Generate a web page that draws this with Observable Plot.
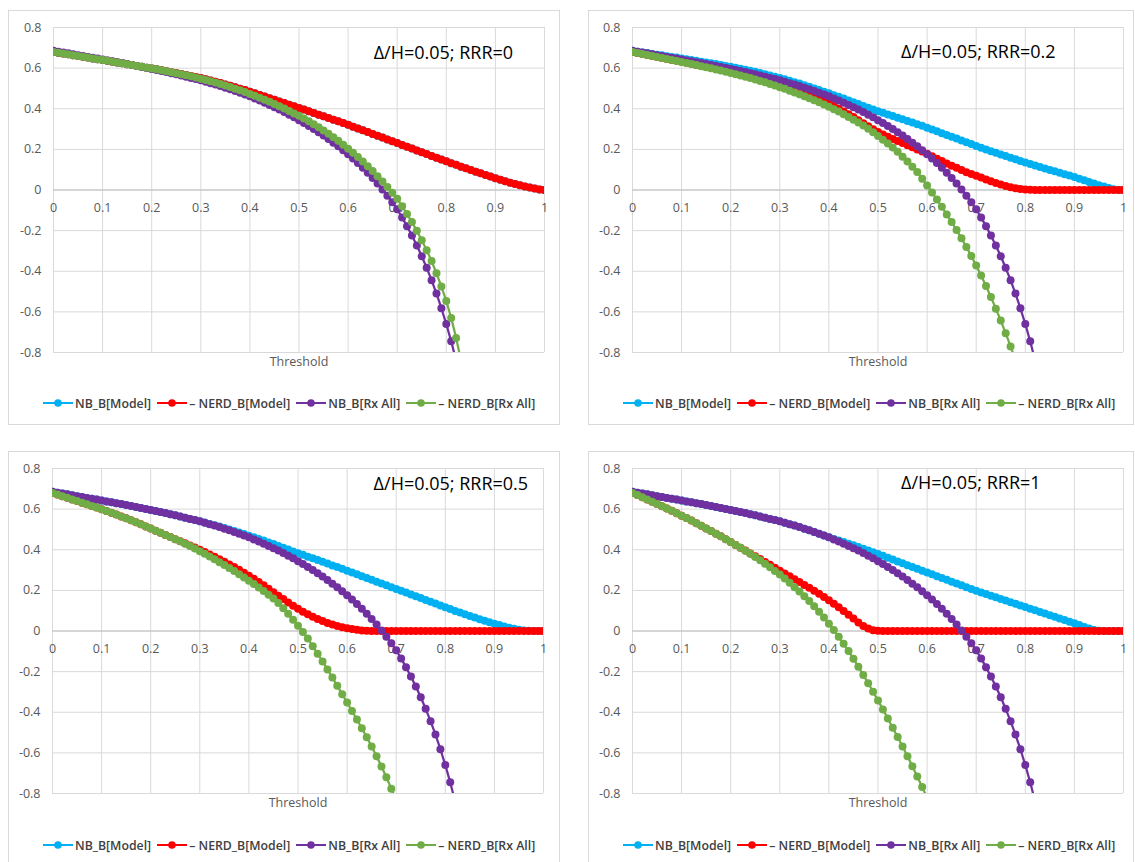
<!DOCTYPE html>
<html><head><meta charset="utf-8">
<script src="https://cdn.jsdelivr.net/npm/d3@7"></script>
<script src="https://cdn.jsdelivr.net/npm/@observablehq/plot@0.6"></script>
<style>
body{margin:0;background:#fff;font-family:"Open Sans",sans-serif;}
#page{position:relative;width:1135px;height:862px;overflow:hidden;background:#fff;}
.frame{position:absolute;border:1px solid #d9d9d9;box-sizing:border-box;}
.plot{position:absolute;}
.legend{position:absolute;display:flex;align-items:center;height:18px;font-size:12.3px;font-weight:600;color:#404040;white-space:nowrap;}
.legend .item{display:flex;align-items:center;margin-right:6px;}
.legend .item span{margin-left:2px;}
</style></head><body><div id="page"></div>
<script>
// ---------- categories / ticks ----------
const thresholds = Array.from({length: 101}, (_, i) => i / 100);
const xTicks = [0, 0.1, 0.2, 0.3, 0.4, 0.5, 0.6, 0.7, 0.8, 0.9, 1];
const yTicks = [-0.8, -0.6, -0.4, -0.2, 0, 0.2, 0.4, 0.6, 0.8];
const seriesNames = ["NB_B[Model]", "– NERD_B[Model]", "NB_B[Rx All]", "– NERD_B[Rx All]"];
const seriesColors = ["#00B0F0", "#FF0000", "#7030A0", "#70AD47"];
const panelTitles = ["Δ/H=0.05; RRR=0", "Δ/H=0.05; RRR=0.2", "Δ/H=0.05; RRR=0.5", "Δ/H=0.05; RRR=1"];
const axisTitle = "Threshold";

// ---------- values (threshold step 0.01) ----------
// NB_B[Rx All] (same in all four panels)
const nbRxAll = [0.685,0.681,0.677,0.673,0.668,0.664,0.660,0.655,0.651,0.647,0.642,
0.638,0.634,0.629,0.625,0.620,0.616,0.611,0.606,0.601,0.596,
0.591,0.586,0.581,0.575,0.570,0.564,0.558,0.552,0.546,0.540,
0.533,0.526,0.519,0.512,0.504,0.496,0.488,0.479,0.470,0.461,
0.451,0.441,0.430,0.419,0.408,0.396,0.384,0.371,0.358,0.344,
0.330,0.315,0.300,0.284,0.268,0.251,0.233,0.215,0.196,0.176,
0.155,0.133,0.110,0.085,0.059,0.032,0.003,-0.028,-0.060,-0.095,
-0.135,-0.178,-0.224,-0.273,-0.326,-0.383,-0.444,-0.510,-0.582,-0.660,
-0.745,-0.840];

// Panel 1 (RRR=0): NB_B[Model] and NERD_B[Model] coincide
const p1NerdModel = [0.680,0.676,0.672,0.668,0.664,0.660,0.656,0.652,0.648,0.644,0.640,
0.636,0.632,0.628,0.624,0.619,0.615,0.611,0.607,0.602,0.598,
0.594,0.589,0.585,0.580,0.576,0.571,0.566,0.561,0.556,0.551,
0.545,0.539,0.533,0.527,0.520,0.513,0.506,0.499,0.492,0.484,
0.476,0.468,0.460,0.452,0.444,0.436,0.428,0.420,0.412,0.404,
0.396,0.388,0.379,0.371,0.363,0.355,0.346,0.338,0.330,0.321,
0.312,0.303,0.294,0.285,0.276,0.267,0.258,0.249,0.240,0.231,
0.222,0.213,0.204,0.195,0.186,0.177,0.168,0.159,0.150,0.141,
0.132,0.124,0.115,0.107,0.098,0.090,0.082,0.074,0.066,0.058,
0.050,0.043,0.036,0.029,0.023,0.017,0.012,0.007,0.003,0.000];
const p1NbModel = p1NerdModel;
const p1NerdRxAll = [0.680,0.676,0.672,0.668,0.664,0.660,0.656,0.652,0.648,0.644,0.640,
0.636,0.632,0.628,0.624,0.619,0.615,0.611,0.607,0.602,0.598,
0.594,0.589,0.585,0.580,0.575,0.570,0.565,0.560,0.554,0.548,
0.542,0.536,0.529,0.522,0.515,0.507,0.499,0.491,0.482,0.473,
0.464,0.454,0.444,0.434,0.423,0.412,0.401,0.389,0.377,0.365,
0.352,0.338,0.324,0.309,0.293,0.277,0.260,0.242,0.223,0.203,
0.183,0.162,0.140,0.117,0.093,0.068,0.042,0.015,-0.013,-0.043,
-0.080,-0.118,-0.158,-0.201,-0.247,-0.296,-0.350,-0.410,-0.475,-0.547,
-0.630,-0.728,-0.840];

// Panel 2 (RRR=0.2)
const p2NbModel = [0.685,0.681,0.677,0.674,0.670,0.666,0.663,0.659,0.655,0.652,0.648,
0.644,0.640,0.636,0.632,0.628,0.624,0.620,0.616,0.611,0.607,
0.602,0.597,0.592,0.587,0.582,0.576,0.570,0.564,0.558,0.552,
0.545,0.538,0.531,0.524,0.516,0.508,0.500,0.492,0.484,0.476,
0.467,0.459,0.450,0.441,0.432,0.423,0.414,0.405,0.396,0.388,
0.380,0.372,0.364,0.356,0.348,0.340,0.332,0.324,0.316,0.307,
0.298,0.289,0.280,0.271,0.262,0.253,0.244,0.235,0.226,0.217,
0.208,0.200,0.191,0.183,0.175,0.167,0.159,0.151,0.143,0.136,
0.128,0.121,0.113,0.106,0.099,0.092,0.085,0.078,0.071,0.064,
0.056,0.048,0.040,0.032,0.024,0.017,0.010,0.004,0.000,0.000];
const p2NerdModel = [0.680,0.675,0.670,0.665,0.660,0.655,0.650,0.645,0.640,0.636,0.631,
0.626,0.621,0.616,0.611,0.606,0.601,0.596,0.591,0.586,0.581,
0.575,0.570,0.564,0.558,0.552,0.546,0.540,0.533,0.526,0.519,
0.511,0.503,0.495,0.486,0.477,0.468,0.458,0.448,0.437,0.426,
0.413,0.400,0.387,0.373,0.359,0.344,0.329,0.314,0.299,0.285,
0.273,0.262,0.251,0.241,0.231,0.220,0.210,0.199,0.189,0.178,
0.166,0.154,0.143,0.131,0.120,0.109,0.098,0.088,0.079,0.070,
0.061,0.052,0.043,0.035,0.027,0.020,0.014,0.009,0.005,0.002,
0.001,0,0,0,0,0,0,0,0,0,
0,0,0,0,0,0,0,0,0,0];
const p2NerdRxAll = [0.680,0.675,0.670,0.665,0.660,0.655,0.650,0.645,0.640,0.635,0.630,
0.625,0.620,0.615,0.609,0.604,0.599,0.593,0.588,0.582,0.576,
0.570,0.564,0.557,0.551,0.544,0.537,0.530,0.522,0.514,0.506,
0.498,0.489,0.480,0.471,0.462,0.452,0.442,0.432,0.421,0.410,
0.398,0.386,0.373,0.360,0.346,0.332,0.317,0.301,0.284,0.266,
0.248,0.229,0.209,0.188,0.164,0.140,0.115,0.089,0.056,0.022,
-0.012,-0.047,-0.083,-0.120,-0.158,-0.197,-0.238,-0.280,-0.325,-0.372,
-0.421,-0.473,-0.527,-0.584,-0.643,-0.705,-0.770,-0.838];

// Panel 3 (RRR=0.5)
const p3NbModel = [0.685,0.681,0.677,0.673,0.668,0.664,0.660,0.655,0.651,0.647,0.642,
0.638,0.634,0.629,0.625,0.620,0.616,0.611,0.606,0.601,0.596,
0.591,0.586,0.581,0.575,0.570,0.564,0.558,0.552,0.546,0.540,
0.534,0.527,0.521,0.514,0.507,0.500,0.492,0.485,0.477,0.469,
0.461,0.453,0.445,0.436,0.428,0.419,0.410,0.401,0.392,0.383,
0.375,0.366,0.358,0.349,0.341,0.332,0.323,0.315,0.306,0.297,
0.288,0.279,0.270,0.261,0.252,0.243,0.234,0.225,0.216,0.207,
0.198,0.189,0.180,0.171,0.162,0.153,0.144,0.135,0.126,0.117,
0.108,0.099,0.091,0.082,0.074,0.066,0.058,0.050,0.043,0.036,
0.029,0.022,0.016,0.011,0.006,0.003,0.001,0,0,0];
const p3NerdModel = [0.680,0.672,0.664,0.656,0.648,0.640,0.632,0.624,0.616,0.608,0.600,
0.591,0.582,0.573,0.564,0.555,0.545,0.535,0.525,0.515,0.505,
0.494,0.484,0.473,0.463,0.452,0.442,0.432,0.421,0.411,0.400,
0.389,0.377,0.365,0.353,0.341,0.328,0.315,0.301,0.287,0.272,
0.257,0.241,0.225,0.208,0.191,0.174,0.157,0.140,0.124,0.109,
0.095,0.082,0.070,0.059,0.049,0.040,0.032,0.025,0.019,0.014,
0.010,0.006,0.003,0.001,0,0,0,0,0,0,
0,0,0,0,0,0,0,0,0,0,
0,0,0,0,0,0,0,0,0,0,
0,0,0,0,0,0,0,0,0,0];
const p3NerdRxAll = [0.680,0.672,0.664,0.656,0.648,0.640,0.632,0.624,0.616,0.608,0.600,
0.591,0.582,0.573,0.564,0.555,0.545,0.535,0.525,0.515,0.505,
0.494,0.484,0.473,0.463,0.452,0.442,0.430,0.418,0.406,0.393,
0.380,0.367,0.353,0.339,0.325,0.310,0.295,0.279,0.263,0.247,
0.231,0.214,0.197,0.179,0.160,0.138,0.112,0.085,0.056,0.026,
-0.005,-0.037,-0.075,-0.112,-0.150,-0.189,-0.229,-0.270,-0.311,-0.352,
-0.394,-0.436,-0.479,-0.523,-0.569,-0.617,-0.667,-0.720,-0.776,-0.835];

// Panel 4 (RRR=1)
const p4NbModel = [0.685,0.681,0.677,0.673,0.668,0.664,0.660,0.655,0.651,0.647,0.642,
0.638,0.634,0.629,0.625,0.620,0.616,0.611,0.606,0.601,0.596,
0.591,0.586,0.581,0.575,0.570,0.564,0.558,0.552,0.546,0.540,
0.533,0.526,0.519,0.512,0.504,0.496,0.488,0.479,0.470,0.461,
0.453,0.446,0.438,0.430,0.422,0.414,0.405,0.396,0.388,0.379,
0.370,0.361,0.352,0.342,0.333,0.324,0.315,0.306,0.297,0.288,
0.279,0.270,0.261,0.252,0.243,0.234,0.225,0.216,0.207,0.198,
0.190,0.182,0.174,0.166,0.158,0.150,0.142,0.134,0.126,0.118,
0.110,0.102,0.094,0.086,0.078,0.070,0.062,0.054,0.046,0.038,
0.029,0.020,0.012,0.005,0.001,0,0,0,0,0];
const p4NerdModel = [0.680,0.669,0.658,0.647,0.636,0.625,0.614,0.603,0.592,0.580,0.568,
0.556,0.544,0.531,0.518,0.505,0.492,0.479,0.466,0.452,0.438,
0.424,0.410,0.396,0.382,0.368,0.354,0.340,0.326,0.311,0.297,
0.283,0.269,0.255,0.241,0.227,0.213,0.198,0.183,0.167,0.151,
0.134,0.117,0.099,0.080,0.061,0.042,0.025,0.012,0.004,0.001,
0,0,0,0,0,0,0,0,0,0,
0,0,0,0,0,0,0,0,0,0,
0,0,0,0,0,0,0,0,0,0,
0,0,0,0,0,0,0,0,0,0,
0,0,0,0,0,0,0,0,0,0];
const p4NerdRxAll = [0.680,0.669,0.658,0.647,0.636,0.625,0.614,0.603,0.592,0.580,0.568,
0.556,0.544,0.531,0.518,0.505,0.492,0.479,0.466,0.452,0.438,
0.424,0.410,0.395,0.380,0.364,0.348,0.331,0.314,0.296,0.278,
0.259,0.238,0.216,0.194,0.171,0.148,0.122,0.095,0.066,0.036,
0.005,-0.028,-0.063,-0.099,-0.137,-0.176,-0.216,-0.257,-0.299,-0.342,
-0.386,-0.431,-0.476,-0.522,-0.569,-0.617,-0.666,-0.716,-0.768,-0.822];

const panelSeries = [
  [p1NbModel, p1NerdModel, nbRxAll, p1NerdRxAll],
  [p2NbModel, p2NerdModel, nbRxAll, p2NerdRxAll],
  [p3NbModel, p3NerdModel, nbRxAll, p3NerdRxAll],
  [p4NbModel, p4NerdModel, nbRxAll, p4NerdRxAll]
];

// ---------- layout (page pixels) ----------
const layout = [
  {frame: [8, 10, 552, 415], svg: [8, 10], legend: [43, 394], note: [0.652, 0.675]},
  {frame: [588, 10, 546, 415], svg: [587, 10], legend: [623, 394], note: [0.547, 0.680]},
  {frame: [8, 451, 552, 420], svg: [7, 451], legend: [43, 836], note: [0.654, 0.723]},
  {frame: [588, 451, 546, 420], svg: [587, 451], legend: [623, 836], note: [0.547, 0.726]}
];

const page = document.getElementById("page");

panelTitles.forEach((title, p) => {
  const L = layout[p];
  const fr = document.createElement("div");
  fr.className = "frame";
  Object.assign(fr.style, {left: L.frame[0] + "px", top: L.frame[1] + "px", width: L.frame[2] + "px", height: L.frame[3] + "px"});
  page.appendChild(fr);

  const seriesMarks = [];
  panelSeries[p].forEach((vals, s) => {
    const rows = vals.map((v, i) => ({t: thresholds[i], v}));
    seriesMarks.push(Plot.line(rows, {x: "t", y: "v", stroke: seriesColors[s], strokeWidth: 2.25, clip: true}));
    seriesMarks.push(Plot.dot(rows, {x: "t", y: "v", r: 4, fill: seriesColors[s], stroke: "none", clip: true}));
  });

  const chart = Plot.plot({
    width: 548, height: 367,
    marginLeft: 45, marginRight: 12, marginTop: 17, marginBottom: 25,
    x: {domain: [0, 1], axis: null},
    y: {domain: [-0.8, 0.8], axis: null},
    style: {fontFamily: "Open Sans, sans-serif", fontSize: "12.5px", color: "#595959", background: "transparent", overflow: "visible"},
    marks: [
      Plot.ruleX(xTicks, {x: d => d, stroke: "#d9d9d9", strokeWidth: 1}),
      Plot.ruleY(yTicks, {y: d => d, stroke: "#d9d9d9", strokeWidth: 1}),
      Plot.ruleY([0], {y: d => d, stroke: "#bfbfbf", strokeWidth: 1}),
      Plot.text(yTicks, {y: d => d, frameAnchor: "left", dx: -12, textAnchor: "end", text: d => String(d)}),
      Plot.text(xTicks, {x: d => d, y: () => 0, dy: 18, text: d => String(d)}),
      Plot.text([axisTitle], {frameAnchor: "bottom", dy: 13, fontSize: 12.5, text: d => d}),
      Plot.text([title], {x: () => L.note[0], y: () => L.note[1], textAnchor: "start", fontSize: 18, fill: "#000", text: d => d}),
      ...seriesMarks
    ]
  });
  chart.classList.add("plot");
  chart.style.left = L.svg[0] + "px";
  chart.style.top = L.svg[1] + "px";
  page.appendChild(chart);

  const lg = document.createElement("div");
  lg.className = "legend";
  lg.style.left = L.legend[0] + "px";
  lg.style.top = L.legend[1] + "px";
  seriesNames.forEach((name, s) => {
    const it = document.createElement("div");
    it.className = "item";
    const c = seriesColors[s];
    it.innerHTML = `<svg width="30" height="10"><line x1="0" x2="30" y1="5" y2="5" stroke="${c}" stroke-width="2"/><circle cx="15" cy="5" r="3.8" fill="${c}"/></svg><span>${name}</span>`;
    lg.appendChild(it);
  });
  page.appendChild(lg);
});
</script></body></html>
